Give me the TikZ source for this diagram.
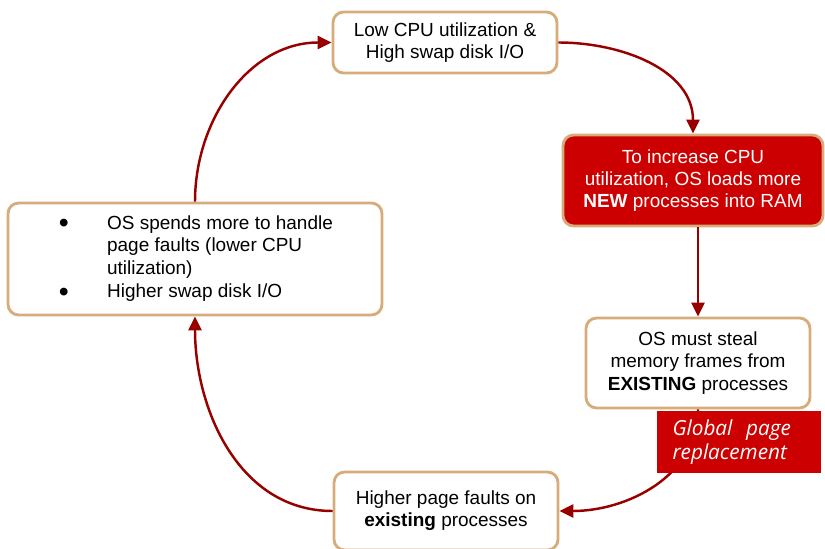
\documentclass[tikz,border=0pt]{standalone}
\usepackage{fontspec}
\setmainfont{Liberation Sans}
\newfontfamily\tagfont{Open Sans}
\usetikzlibrary{positioning, arrows.meta, shapes.geometric}

\definecolor{boxline}{RGB}{214,172,122}
\definecolor{flowred}{RGB}{152,0,0}
\definecolor{hotred}{RGB}{204,0,0}

\newcommand{\dotitem}{\makebox[1cm][l]{\hspace*{1pt}\raisebox{-1.8pt}{\scalebox{1.5}{\textbullet}}}}

\tikzset{
  box/.style={draw=boxline, line width=1.6pt, rounded corners=6pt, fill=white,
    align=center, font=\fontsize{10.8pt}{12.6pt}\selectfont},
  hotbox/.style={box, fill=hotred, text=white},
  flow/.style={draw=flowred, line width=1.4pt, -{Triangle[length=8pt,width=7.5pt]}},
  tag/.style={fill=hotred, text=white, align=left,
    font=\tagfont\itshape\fontsize{11.8pt}{13.6pt}\selectfont}
}

\begin{document}
\begin{tikzpicture}[x=0.02cm, y=-0.02cm]
\useasboundingbox (0,0) rectangle (825,548);

% the cycle
\node[box, minimum width=4.48cm, minimum height=1.22cm] (lowcpu) at (445,42.5)
  {Low CPU utilization \&\\High swap disk I/O};
\node[hotbox, minimum width=5.2cm, minimum height=1.82cm] (loadnew) at (693,180.5)
  {To increase CPU\\utilization, OS loads more\\\textbf{NEW} processes into RAM};
\node[box, minimum width=4.48cm, minimum height=1.8cm] (steal) at (698,363)
  {OS must steal\\memory frames from\\\textbf{EXISTING} processes};
\node[box, minimum width=4.48cm, minimum height=1.56cm] (faults) at (446,511)
  {Higher page faults on\\\textbf{existing} processes};
\node[box, minimum width=7.48cm, minimum height=2.24cm, align=left] (spend) at (195,259)
  {\dotitem OS spends more to handle\\
   \hspace*{1cm}page faults (lower CPU\\
   \hspace*{1cm}utilization)\\[1pt]
   \dotitem Higher swap disk I/O};

\draw[flow] (lowcpu.east) to[out=0, in=90] (loadnew.north);
\draw[flow] (loadnew.south -| steal.north) -- (steal.north);
\draw[flow] (steal.south) to[out=-90, in=0] (faults.east);
\draw[flow] (faults.west) to[out=180, in=-90] (spend.south);
\draw[flow] (spend.north) to[out=90, in=180] (lowcpu.west);

% label sits on top of the steal -> faults edge
\node[tag, text width=2.66cm, inner xsep=0.32cm, minimum height=1.24cm] (global) at (739,442)
  {Global\ \ page\\replacement};
\end{tikzpicture}
\end{document}
